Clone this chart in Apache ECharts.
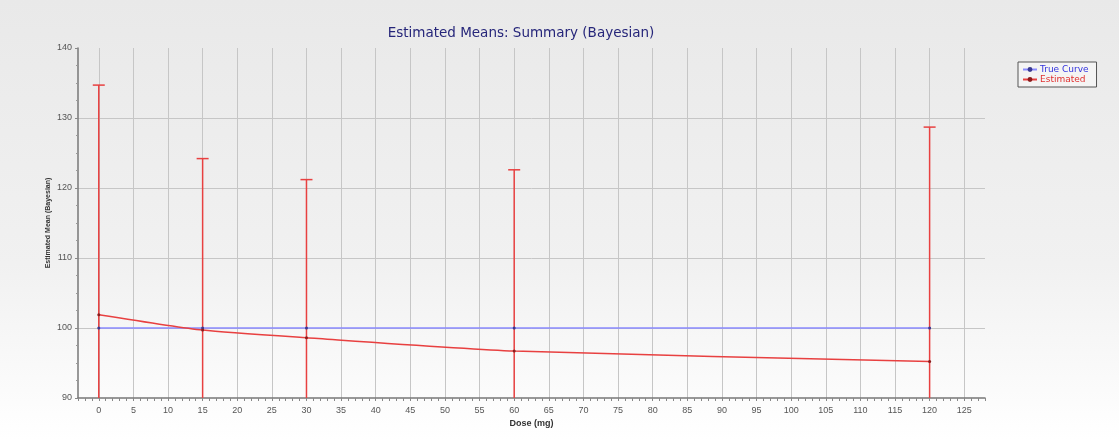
<!DOCTYPE html>
<html>
<head>
<meta charset="utf-8">
<script src="https://cdn.jsdelivr.net/npm/echarts@6/dist/echarts.min.js"></script>
<style>
  html, body { margin: 0; padding: 0; }
  #chart { width: 1119px; height: 440px; }
</style>
</head>
<body>
<div id="chart"></div>
<script>
// doses where the model was fitted
const doses = [0, 15, 30, 60, 120];
// true dose-response curve (flat)
const trueCurve = [100, 100, 100, 100, 100];
// bayesian estimated means
const estimated = [101.9, 99.7, 98.6, 96.7, 95.2];
// interval bounds (lower ones run off the bottom of the plot)
const upperBound = [134.7, 124.2, 121.2, 122.6, 128.7];
const lowerBound = [69.1, 75.2, 76.0, 70.8, 61.7];
// axis labels
const xLabels = [0, 5, 10, 15, 20, 25, 30, 35, 40, 45, 50, 55, 60, 65, 70, 75, 80, 85, 90, 95, 100, 105, 110, 115, 120, 125];
const yGridValues = [100, 110, 120, 130];

const chart = echarts.init(document.getElementById('chart'), null, {renderer: 'canvas'});

const labelFont = {color: '#555', fontSize: 9, fontFamily: 'Liberation Sans'};

const option = {
  animation: false,
  backgroundColor: {
    type: 'linear', x: 0, y: 0, x2: 0, y2: 1,
    colorStops: [{offset: 0, color: '#e9e9e9'}, {offset: 0.6, color: '#f1f1f1'}, {offset: 1, color: '#ffffff'}],
  },
  title: {
    text: 'Estimated Means: Summary (Bayesian)',
    left: 516,
    top: 21,
    textAlign: 'center',
    textStyle: {color: '#26267a', fontSize: 13.5, fontWeight: 'normal', fontFamily: 'DejaVu Sans'},
  },
  legend: {
    left: 1018,
    top: 62,
    orient: 'vertical',
    itemGap: 1,
    itemWidth: 14,
    itemHeight: 6,
    padding: [3, 8, 3, 4],
    borderColor: '#555',
    borderWidth: 1,
    backgroundColor: '#f4f4f4',
    data: [
      {name: 'True Curve', textStyle: {color: '#3333dd'}},
      {name: 'Estimated', textStyle: {color: '#e03030'}},
    ],
    textStyle: {fontSize: 9, fontFamily: 'DejaVu Sans', padding: [0, 0, 0, -2]},
  },
  grid: {left: 78, right: 134, top: 48, bottom: 42, containLabel: false},
  xAxis: [
    {
      // main axis line with unit ticks
      type: 'value',
      position: 'bottom',
      min: -3,
      max: 128,
      interval: 1,
      axisLine: {onZero: false, lineStyle: {color: '#777', width: 1.5}},
      axisTick: {length: 3, lineStyle: {color: '#888'}},
      axisLabel: {show: false},
      splitLine: {show: false},
      name: 'Dose (mg)',
      nameLocation: 'middle',
      nameGap: 21,
      nameTextStyle: {color: '#333', fontSize: 9, fontWeight: 'bold', fontFamily: 'Liberation Sans'},
    },
    {
      // labels + grid every 5 mg
      type: 'value',
      position: 'bottom',
      min: -3,
      max: 128,
      axisLine: {show: false, onZero: false},
      axisTick: {show: false, customValues: xLabels},
      axisLabel: Object.assign({customValues: xLabels, margin: 8}, labelFont),
      splitLine: {show: true, lineStyle: {color: '#c6c6c6', width: 1}},
    },
  ],
  yAxis: [
    {
      type: 'value',
      min: 90,
      max: 140,
      interval: 10,
      axisLine: {show: true, onZero: false, lineStyle: {color: '#777', width: 1.5}},
      axisTick: {show: true, length: 3, lineStyle: {color: '#888'}},
      minorTick: {show: true, splitNumber: 4, length: 2, lineStyle: {color: '#999'}},
      axisLabel: Object.assign({margin: 6}, labelFont),
      splitLine: {show: false},
      name: 'Estimated Mean (Bayesian)',
      nameLocation: 'middle',
      nameGap: 26,
      nameMoveOverlap: false,
      nameTextStyle: {color: '#333', fontSize: 7, fontWeight: 'bold', fontFamily: 'Liberation Sans'},
    },
    {
      type: 'value',
      min: 90,
      max: 140,
      axisLine: {show: false, onZero: false},
      axisTick: {show: false, customValues: yGridValues},
      axisLabel: {show: false},
      splitLine: {show: true, lineStyle: {color: '#c6c6c6', width: 1}},
    },
  ],
  series: [
    {
      name: 'Error',
      type: 'custom',
      xAxisIndex: 0,
      yAxisIndex: 0,
      clip: true,
      z: 3,
      data: doses.map((d, i) => [d, lowerBound[i], upperBound[i]]),
      renderItem: function (params, api) {
        const x = api.value(0);
        const lo = api.coord([x, api.value(1)]);
        const hi = api.coord([x, api.value(2)]);
        const cap = 6;
        const style = {stroke: '#e84040', lineWidth: 1.5};
        return {
          type: 'group',
          children: [
            {type: 'line', shape: {x1: hi[0], y1: lo[1], x2: hi[0], y2: hi[1]}, style: style},
            {type: 'line', shape: {x1: hi[0] - cap, y1: hi[1], x2: hi[0] + cap, y2: hi[1]}, style: style},
          ],
        };
      },
    },
    {
      name: 'True Curve',
      type: 'line',
      xAxisIndex: 0,
      yAxisIndex: 0,
      z: 4,
      data: doses.map((d, i) => [d, trueCurve[i]]),
      symbol: 'circle',
      symbolSize: 3,
      showSymbol: true,
      itemStyle: {color: '#3a3a90'},
      lineStyle: {color: '#8a8aff', width: 1.5},
    },
    {
      name: 'Estimated',
      type: 'line',
      xAxisIndex: 0,
      yAxisIndex: 0,
      z: 5,
      smooth: 0.2,
      data: doses.map((d, i) => [d, estimated[i]]),
      symbol: 'circle',
      symbolSize: 3,
      showSymbol: true,
      itemStyle: {color: '#8a1c1c'},
      lineStyle: {color: '#e84040', width: 1.5},
    },
  ],
};

chart.setOption(option);
</script>
</body>
</html>
